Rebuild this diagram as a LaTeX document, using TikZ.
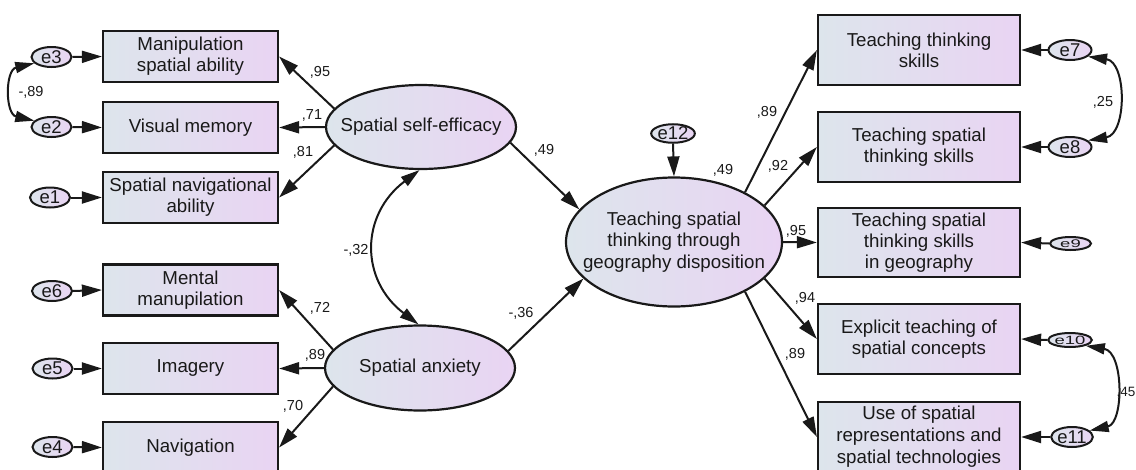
\documentclass[tikz,border=0pt]{standalone}
\usepackage{fontspec}
\usepackage{graphicx}
\setmainfont{Liberation Sans}
\usetikzlibrary{arrows.meta,shapes.geometric}
\definecolor{cL}{RGB}{221,229,236}
\definecolor{cR}{RGB}{233,212,243}
\definecolor{ink}{RGB}{25,25,25}
\begin{document}
\begin{tikzpicture}[x=1pt,y=-1pt,
  obs/.style={rectangle, draw=ink, line width=2.2pt, left color=cL, right color=cR, align=center, inner sep=0pt, font=\fontsize{18.7}{21}\selectfont, text=ink},
  lat/.style={ellipse, draw=ink, line width=2.2pt, left color=cL, right color=cR, inner sep=0pt},
  txt/.style={align=center, inner sep=0pt, font=\fontsize{18.7}{21.5}\selectfont, text=ink},
  err/.style={ellipse, draw=ink, line width=2pt, left color=cL, right color=cR, minimum width=40pt, minimum height=20pt, inner sep=0pt, font=\fontsize{18.5}{20}\selectfont, text=ink},
  reg/.style={line width=2pt, draw=ink, -{Triangle[length=20pt,width=12pt]}},
  cov/.style={line width=2pt, draw=ink, {Triangle[length=19pt,width=11pt]}-{Triangle[length=19pt,width=11pt]}},
  lab/.style={font=\fontsize{14.5}{16}\selectfont, text=ink, inner sep=0pt}
]
\useasboundingbox (0,0) rectangle (1136,469);

% left observed
\node[obs, minimum width=175pt, minimum height=51pt] (b3) at (190.5,56.5) {Manipulation\\spatial ability};
\node[obs, minimum width=175pt, minimum height=51pt] (b2) at (190.5,127.5) {Visual memory};
\node[obs, minimum width=175pt, minimum height=51pt] (b1) at (190.5,197.5) {Spatial navigational\\ability};
\node[obs, minimum width=175pt, minimum height=51pt] (b6) at (190.5,290) {Mental\\manupilation};
\node[obs, minimum width=175pt, minimum height=51pt] (b5) at (190.5,368.5) {Imagery};
\node[obs, minimum width=175pt, minimum height=51pt] (b4) at (190.5,447.5) {Navigation};

% left errors
\node[err] (e3) at (51.5,57) {e3};
\node[err] (e2) at (51.5,127) {e2};
\node[err] (e1) at (50,197.5) {e1};
\node[err] (e6) at (52,291) {e6};
\node[err] (e5) at (52.5,368.5) {e5};
\node[err] (e4) at (52.5,447) {e4};

% latent
\node[lat, minimum width=190pt, minimum height=84pt] (sse) at (421,127) {};
\node[txt] at (sse) {Spatial self-efficacy};
\node[lat, minimum width=190pt, minimum height=85pt] (sa) at (420,368) {};
\node[txt] at (sa) {Spatial anxiety};
\node[lat, minimum width=216pt, minimum height=129pt] (tst) at (674,242) {};
\node[txt] at (tst) {Teaching spatial\\thinking through\\geography disposition};
\node[err, minimum height=18pt] (e12) at (673,133.5) {e12};

% right observed
\node[obs, minimum width=202pt, minimum height=70pt] (r1) at (919,50) {Teaching thinking\\skills};
\node[obs, minimum width=202pt, minimum height=70pt] (r2) at (919,147) {Teaching spatial\\thinking skills};
\node[obs, minimum width=202pt, minimum height=69pt] (r3) at (919,242.5) {Teaching spatial\\thinking skills\\in geography};
\node[obs, minimum width=202pt, minimum height=70pt] (r4) at (919,339) {Explicit teaching of\\spatial concepts};
\node[obs, minimum width=202pt, minimum height=70pt, font=\fontsize{18.7}{22}\selectfont] (r5) at (919,437) {Use of spatial\\representations and\\spatial technologies};

% right errors
\node[err, minimum width=43pt] (e7) at (1070,50) {e7};
\node[err, minimum width=43pt] (e8) at (1070,147) {e8};
\node[err, minimum width=41pt, minimum height=13pt] (e9) at (1070.5,243.5) {\scalebox{1}[0.6]{e9}};
\node[err, minimum width=40pt, minimum height=14pt] (e10) at (1070,340) {\scalebox{1}[0.65]{e10}};
\node[err, minimum width=40pt] (e11) at (1072,437) {e11};

% error arrows
\foreach \e/\b in {e3/b3,e2/b2,e1/b1,e6/b6,e5/b5,e4/b4}{
  \draw[reg] (\e.east) -- (\b.west);
}
\foreach \e/\b in {e7/r1,e8/r2,e9/r3,e10/r4,e11/r5}{
  \draw[reg] (\e.west) -- (\b.east);
}
\draw[reg] (e12.south) -- (tst.north);

% loadings
\draw[reg] (sse.168) -- (b3.east);
\draw[reg] (sse.180) -- (b2.east);
\draw[reg] (sse.192) -- (b1.east);
\draw[reg] (sa.168) -- (b6.east);
\draw[reg] (sa.180) -- (b5.east);
\draw[reg] (sa.192) -- (b4.east);

\draw[reg] (sse.-10) -- (tst.161);
\draw[reg] (sa.11) -- (tst.202);

\draw[reg] (tst.35) -- (r1.west);
\draw[reg] (tst.22) -- (r2.west);
\draw[reg] (tst.0) -- (r3.west);
\draw[reg] (tst.-22) -- (r4.west);
\draw[reg] (tst.-35) -- (r5.west);

% covariances
\draw[cov] (e3.200) .. controls (5,70) and (5,114) .. (e2.160);
\draw[cov] (sse.-92) .. controls (360,215) and (360,280) .. (sa.92);
\draw[cov] (e7.-20) .. controls (1127,62) and (1127,134) .. (e8.20);
\draw[cov] (e10.-20) .. controls (1124,352) and (1124,423) .. (e11.20);

% labels
\node[lab] (l1) at (320,72) {,95};
\node[lab] (l2) at (312,115) {,71};
\node[lab] (l3) at (303,152) {,81};
\node[lab] (l4) at (320,308) {,72};
\node[lab] (l5) at (315,355) {,89};
\node[lab] (l6) at (293,406) {,70};
\node[lab] (l7) at (356,250) {-,32};
\node[lab] (l8) at (544,150) {,49};
\node[lab] (l9) at (521,313) {-,36};
\node[lab] (l10) at (723,170) {,49};
\node[lab] (l11) at (767,112) {,89};
\node[lab] (l12) at (778,166) {,92};
\node[lab] (l13) at (796,231) {,95};
\node[lab] (l14) at (805,298) {,94};
\node[lab] (l15) at (795,354) {,89};
\node[lab] (l16) at (31,92) {-,89};
\node[lab] (l17) at (1103,102) {,25};
\node[lab, anchor=east, font=\fontsize{13.5}{15}\selectfont] (l18) at (1135.5,393) {,45};
\end{tikzpicture}
\end{document}
